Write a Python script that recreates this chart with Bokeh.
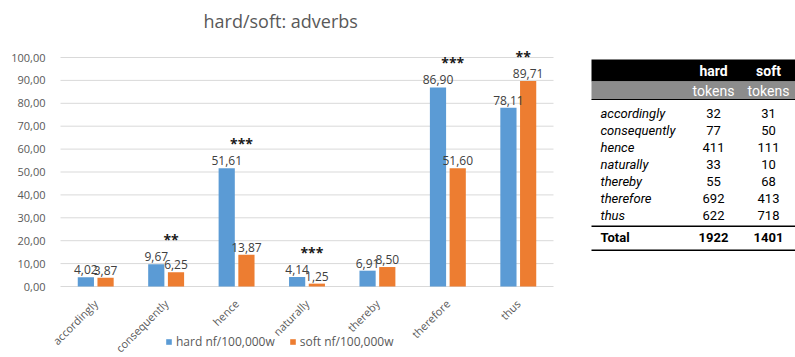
from bokeh.plotting import figure
from bokeh.layouts import row
from bokeh.models import (ColumnDataSource, Range1d, FixedTicker,
                          Legend, LegendItem, Label)
from bokeh.transform import dodge
from bokeh.core.properties import value
from bokeh.embed import file_html
from bokeh.resources import INLINE

# ---------------- data ----------------
adverbs = ["accordingly", "consequently", "hence", "naturally", "thereby", "therefore", "thus"]
hard_nf = [4.02, 9.67, 51.61, 4.14, 6.91, 86.90, 78.11]
soft_nf = [3.87, 6.25, 13.87, 1.25, 8.50, 51.60, 89.71]
significance = ["", "**", "***", "***", "", "***", "**"]
hard_tokens = [32, 77, 411, 33, 55, 692, 622]
soft_tokens = [31, 50, 111, 10, 68, 413, 718]
y_ticks = [0, 10, 20, 30, 40, 50, 60, 70, 80, 90, 100]
title_text = "hard/soft: adverbs"
legend_labels = ["hard nf/100,000w", "soft nf/100,000w"]
table_header = ["hard", "soft"]
table_sub = ["tokens", "tokens"]

BLUE = "#5B9BD5"
ORANGE = "#ED7D31"
GREY_TXT = "#595959"
FONT = "Open Sans"
TFONT = "Roboto"

# layout (pixels)
H = 357
LEFT, PLOT_W, RIGHT = 60, 493, 22
ZERO_Y = 286          # pixel row of value 0
PX_PER_UNIT = 2.29    # pixels per value unit
TITLE_BASE_Y = 20
TITLE_X = 143


def fmt(v):
    return f"{v:.2f}".replace(".", ",")


n = len(adverbs)
slot = [i + 0.5 for i in range(n)]          # category slot centres
src = ColumnDataSource(dict(
    xc=slot,
    adverb=adverbs,
    hard=hard_nf,
    soft=soft_nf,
    hard_lbl=[fmt(v) for v in hard_nf],
    soft_lbl=[fmt(v) for v in soft_nf],
    top=[max(a, b) for a, b in zip(hard_nf, soft_nf)],
    sig=significance,
))

cat_px = PLOT_W / n
W1 = LEFT + PLOT_W + RIGHT
p = figure(x_range=Range1d(-LEFT / cat_px, n + RIGHT / cat_px),
           y_range=Range1d(-(H - ZERO_Y) / PX_PER_UNIT, ZERO_Y / PX_PER_UNIT),
           frame_width=W1, frame_height=H, min_border=0,
           output_backend="svg", toolbar_location=None)
p.outline_line_color = None
p.background_fill_color = "white"
p.title.visible = False
p.grid.visible = False

# horizontal gridlines across the plot area only
p.segment(x0=0, x1=n, y0=y_ticks, y1=y_ticks, line_color="#d9d9d9", line_width=1)

p.add_layout(Label(x=0, y=(ZERO_Y - TITLE_BASE_Y) / PX_PER_UNIT, x_offset=TITLE_X,
                   text=title_text, text_font=FONT, text_font_size="18px",
                   text_color=GREY_TXT, text_baseline="alphabetic", text_align="left"))

r_hard = p.vbar(x=dodge("xc", -0.14), top="hard", bottom=0, width=0.23,
                source=src, fill_color=BLUE, line_color=None)
r_soft = p.vbar(x=dodge("xc", 0.14), top="soft", bottom=0, width=0.23,
                source=src, fill_color=ORANGE, line_color=None)

p.text(x=dodge("xc", -0.14), y="hard", text="hard_lbl", source=src,
       text_align="center", text_baseline="bottom", y_offset=-3,
       text_font=value(FONT), text_font_size="12px", text_color="#404040")
p.text(x=dodge("xc", 0.14), y="soft", text="soft_lbl", source=src,
       text_align="center", text_baseline="bottom", y_offset=-3,
       text_font=value(FONT), text_font_size="12px", text_color="#404040")
p.text(x=dodge("xc", 0.07), y="top", text="sig", source=src,
       text_align="center", text_baseline="middle", y_offset=-25,
       text_font=value(FONT), text_font_size="14px", text_font_style="bold",
       text_color="#1a1a1a")

p.yaxis.fixed_location = 0
p.yaxis.ticker = FixedTicker(ticks=y_ticks)
p.yaxis.major_label_overrides = {t: fmt(t) for t in y_ticks}
p.yaxis.axis_line_color = None
p.yaxis.major_tick_line_color = None
p.yaxis.minor_tick_line_color = None
p.yaxis.major_label_text_font = FONT
p.yaxis.major_label_text_font_size = "11px"
p.yaxis.major_label_text_color = GREY_TXT
p.yaxis.major_label_standoff = 9

p.xaxis.fixed_location = 0
p.xaxis.ticker = FixedTicker(ticks=slot)
p.xaxis.major_label_overrides = {x: a for x, a in zip(slot, adverbs)}
p.xaxis.axis_line_color = None
p.xaxis.major_tick_line_color = None
p.xaxis.minor_tick_line_color = None
p.xaxis.major_label_orientation = 0.785
p.xaxis.major_label_text_font = FONT
p.xaxis.major_label_text_font_size = "11px"
p.xaxis.major_label_text_color = GREY_TXT
p.xaxis.major_label_standoff = 9

legend = Legend(items=[LegendItem(label=legend_labels[0], renderers=[r_hard]),
                       LegendItem(label=legend_labels[1], renderers=[r_soft])],
                orientation="horizontal", location=(LEFT + 105, 7),
                border_line_color=None, background_fill_alpha=0,
                padding=0, margin=0, spacing=14, glyph_width=7, glyph_height=7,
                label_standoff=4, label_height=14,
                label_text_font=FONT, label_text_font_size="12px",
                label_text_color=GREY_TXT)
p.add_layout(legend, "center")

# ---------------- table ----------------
# ranges of the table figure are page pixels
TX0, TX1 = W1, 795
t = figure(x_range=Range1d(TX0, TX1), y_range=Range1d(H, 0),
           frame_width=TX1 - TX0, frame_height=H,
           min_border=0, output_backend="svg", toolbar_location=None)
t.outline_line_color = None
t.xaxis.visible = False
t.yaxis.visible = False
t.grid.visible = False
t.title.visible = False

col_x = [713, 768]
x0, x1 = 591, 795
label_x = 600
band_top, band_mid, band_bot = 59, 81, 99
row0, row_h = 113, 16.95

t.quad(left=x0, right=x1, top=band_top, bottom=band_mid, fill_color="black", line_color=None)
t.quad(left=x0, right=x1, top=band_mid, bottom=band_bot, fill_color="#8c8c8c", line_color=None)
t.segment(x0=x0, x1=x1, y0=band_bot, y1=band_bot, line_color="black", line_width=1)

hdr = ColumnDataSource(dict(x=col_x, h=table_header, s=table_sub))
t.text(x="x", y=(band_top + band_mid) / 2, text="h", source=hdr, text_align="center",
       text_baseline="middle", text_font=value(TFONT), text_font_size="14px",
       text_font_style="bold", text_color="white")
t.text(x="x", y=(band_mid + band_bot) / 2, text="s", source=hdr, text_align="center",
       text_baseline="middle", text_font=value(TFONT), text_font_size="14px",
       text_color="white")

ys = [row0 + i * row_h for i in range(n)]
rows = ColumnDataSource(dict(y=ys, name=adverbs,
                             h=[str(v) for v in hard_tokens],
                             s=[str(v) for v in soft_tokens]))
t.text(x=label_x, y="y", text="name", source=rows, text_align="left", text_baseline="middle",
       text_font=value(TFONT), text_font_size="13px", text_font_style="italic",
       text_color="black")
t.text(x=col_x[0], y="y", text="h", source=rows, text_align="center", text_baseline="middle",
       text_font=value(TFONT), text_font_size="13px", text_color="black")
t.text(x=col_x[1], y="y", text="s", source=rows, text_align="center", text_baseline="middle",
       text_font=value(TFONT), text_font_size="13px", text_color="black")

line_y = ys[-1] + 11
total_y = line_y + 11
bottom_y = total_y + 13
t.segment(x0=x0, x1=x1, y0=line_y, y1=line_y, line_color="black", line_width=1.5)
t.segment(x0=x0, x1=x1, y0=bottom_y, y1=bottom_y, line_color="black", line_width=1.5)
tot = ColumnDataSource(dict(x=[label_x] + col_x, y=[total_y] * 3,
                            txt=["Total", str(sum(hard_tokens)), str(sum(soft_tokens))],
                            al=["left", "center", "center"]))
t.text(x="x", y="y", text="txt", source=tot, text_align="al", text_baseline="middle",
       text_font=value(TFONT), text_font_size="13px", text_font_style="bold",
       text_color="black")

layout = row(p, t)
open("out.html", "w").write(file_html(layout, INLINE))
